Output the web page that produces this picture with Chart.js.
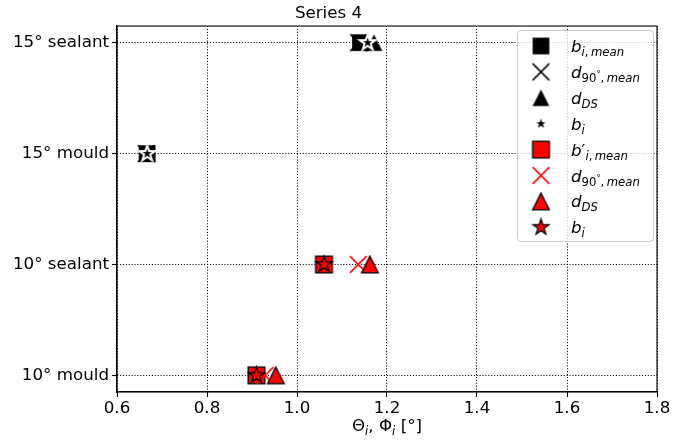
<!DOCTYPE html>
<html>
<head>
<meta charset="utf-8">
<script src="https://cdn.jsdelivr.net/npm/chart.js@4/dist/chart.umd.min.js"></script>
<style>
  body { margin: 0; background: #fff; }
  #wrap { width: 673px; height: 440px; }
</style>
</head>
<body>
<div id="wrap"><canvas id="chart" width="673" height="440"></canvas></div>
<script>
// categories on the y axis (bottom to top) and x ticks
const yLabels = ["10° mould", "10° sealant", "15° mould", "15° sealant"];
const xTicks = [0.6, 0.8, 1.0, 1.2, 1.4, 1.6, 1.8];

// black series sits on the 15° rows
const blackRows = [3, 2];
const blackSquare = [1.141, 0.667];
const blackCross = [1.137, 0.665];
const blackTriangle = [1.171, 0.668];
const blackStar = [1.157, 0.667];

// red series sits on the 10° rows
const redRows = [1, 0];
const redSquare = [1.060, 0.910];
const redCross = [1.136, 0.929];
const redTriangle = [1.162, 0.953];
const redStar = [1.060, 0.910];

const FONT = "'DejaVu Sans', sans-serif";
const FS = 16.7;

// draw matplotlib-like marker into a small canvas, used as pointStyle
function makeMarker(kind, ms, fill, edge, lw) {
    const pad = Math.ceil(lw) + 2;
    const n = Math.ceil(ms) + 2 * pad;
    const c = document.createElement("canvas");
    c.width = n; c.height = n;
    const g = c.getContext("2d");
    g.translate(n / 2, n / 2);
    const h = ms / 2;
    g.beginPath();
    if (kind === "square") {
        g.rect(-h, -h, ms, ms);
    } else if (kind === "triangle") {
        g.moveTo(0, -h); g.lineTo(-h, h); g.lineTo(h, h); g.closePath();
    } else if (kind === "star") {
        for (let k = 0; k < 10; k++) {
            const r = k % 2 ? h * 0.381966 : h;
            const a = -Math.PI / 2 + k * Math.PI / 5;
            if (k === 0) g.moveTo(r * Math.cos(a), r * Math.sin(a));
            else g.lineTo(r * Math.cos(a), r * Math.sin(a));
        }
        g.closePath();
    } else if (kind === "cross") {
        g.moveTo(-h, -h); g.lineTo(h, h);
        g.moveTo(-h, h); g.lineTo(h, -h);
    }
    if (kind === "cross") {
        g.strokeStyle = fill; g.lineWidth = lw; g.stroke();
    } else {
        g.fillStyle = fill; g.fill();
        if (lw > 0) { g.strokeStyle = edge; g.lineWidth = lw; g.lineJoin = "miter"; g.stroke(); }
    }
    return c;
}

const MS = 16.7;
const markers = [
    makeMarker("square", MS, "#000", "#000", 0),
    makeMarker("cross", MS, "#000", "#000", 1.5),
    makeMarker("triangle", MS, "#000", "#000", 0),
    makeMarker("star", MS, "#000", "#fff", 2),
    makeMarker("square", MS, "#ff0000", "#000", 1.3),
    makeMarker("cross", MS, "#ff0000", "#ff0000", 1.5),
    makeMarker("triangle", MS, "#ff0000", "#000", 1.3),
    makeMarker("star", MS, "#ff0000", "#000", 1.3)
];

const seriesX = [blackSquare, blackCross, blackTriangle, blackStar, redSquare, redCross, redTriangle, redStar];
const seriesRows = [blackRows, blackRows, blackRows, blackRows, redRows, redRows, redRows, redRows];

// legend labels as math pieces: [text, italic, level] level 0 main, 1 sub, 2 sup in sub
const I = true, R = false;
const legendLabels = [
    [["b", I, 0], ["i", I, 1], [",\u2009", R, 1], ["mean", I, 1]],
    [["d", I, 0], ["90", R, 1], ["°", R, 2], [",\u2009", R, 1], ["mean", I, 1]],
    [["d", I, 0], ["DS", I, 1]],
    [["b", I, 0], ["i", I, 1]],
    [["b", I, 0], ["′", R, 0], ["i", I, 1], [",\u2009", R, 1], ["mean", I, 1]],
    [["d", I, 0], ["90", R, 1], ["°", R, 2], [",\u2009", R, 1], ["mean", I, 1]],
    [["d", I, 0], ["DS", I, 1]],
    [["b", I, 0], ["i", I, 1]]
];
const xTitle = [["Θ", R, 0], ["i", I, 1], [", ", R, 0], ["Φ", R, 0], ["i", I, 1], [" [°]", R, 0]];

function pieceFont(p) {
    const size = p[2] === 0 ? FS : (p[2] === 1 ? FS * 0.7 : FS * 0.5);
    return (p[1] ? "oblique " : "") + size.toFixed(1) + "px " + FONT;
}
function pieceDy(p) {
    return p[2] === 0 ? 0 : (p[2] === 1 ? 4 : -1);
}
function mathWidth(ctx, parts) {
    let w = 0;
    parts.forEach(p => { ctx.font = pieceFont(p); w += ctx.measureText(p[0]).width; });
    return w;
}
function drawMath(ctx, x, baseline, parts) {
    ctx.textBaseline = "alphabetic";
    ctx.textAlign = "left";
    ctx.fillStyle = "#000";
    parts.forEach(p => {
        ctx.font = pieceFont(p);
        ctx.fillText(p[0], x, baseline + pieceDy(p));
        x += ctx.measureText(p[0]).width;
    });
}

const extras = {
    id: "extras",
    afterDatasetsDraw(chart) {
        const ctx = chart.ctx;
        const a = chart.chartArea;
        ctx.save();
        // frame (all four spines)
        ctx.strokeStyle = "#000";
        ctx.lineWidth = 1.1;
        ctx.strokeRect(a.left, a.top, a.right - a.left, a.bottom - a.top);

        // x axis title
        const w = mathWidth(ctx, xTitle);
        drawMath(ctx, (a.left + a.right) / 2 - w / 2, 431, xTitle);

        // legend
        const lx = 517.5, ly = 30.5, lw = 136, lh = 211, r = 4;
        ctx.beginPath();
        ctx.moveTo(lx + r, ly);
        ctx.arcTo(lx + lw, ly, lx + lw, ly + lh, r);
        ctx.arcTo(lx + lw, ly + lh, lx, ly + lh, r);
        ctx.arcTo(lx, ly + lh, lx, ly, r);
        ctx.arcTo(lx, ly, lx + lw, ly, r);
        ctx.closePath();
        ctx.fillStyle = "rgba(255,255,255,0.8)";
        ctx.fill();
        ctx.strokeStyle = "#cccccc";
        ctx.lineWidth = 1;
        ctx.stroke();
        legendLabels.forEach((parts, i) => {
            const cy = 46 + i * 25.9;
            const m = markers[i];
            ctx.drawImage(m, 541 - m.width / 2, cy - m.height / 2);
            drawMath(ctx, 571, cy + 6, parts);
        });
        ctx.restore();
    }
};

const datasets = seriesX.map((xs, i) => ({
    data: xs.map((x, j) => ({ x: x, y: seriesRows[i][j] })),
    pointStyle: markers[i],
    pointRadius: 9,
    showLine: false,
    order: seriesX.length - i  // first series drawn first, like matplotlib
}));

new Chart(document.getElementById("chart"), {
    type: "scatter",
    data: { datasets: datasets },
    options: {
        responsive: false,
        animation: false,
        devicePixelRatio: 1,
        layout: { padding: { left: 0, right: 16, top: 0, bottom: 0 } },
        plugins: {
            legend: { display: false },
            tooltip: { enabled: false },
            title: {
                display: true,
                text: "Series 4",
                color: "#000",
                font: { family: FONT, size: FS, weight: "normal", lineHeight: 1.2 },
                padding: { top: 4, bottom: 2 }
            }
        },
        scales: {
            x: {
                type: "linear",
                min: 0.6,
                max: 1.8,
                afterBuildTicks: s => { s.ticks = xTicks.map(v => ({ value: v })); },
                afterFit: s => { s.height = 48; },
                ticks: {
                    autoSkip: false,
                    maxRotation: 0,
                    padding: 2,
                    color: "#000",
                    font: { family: FONT, size: FS },
                    callback: v => Number(v).toFixed(1)
                },
                grid: { color: "#000", lineWidth: 1, tickLength: 5, tickColor: "#000", tickWidth: 1.1 },
                border: { display: true, color: "#000", width: 1.1, dash: [1.1, 1.8] }
            },
            y: {
                type: "linear",
                min: -0.15,
                max: 3.15,
                afterBuildTicks: s => { s.ticks = yLabels.map((t, i) => ({ value: i })); },
                afterFit: s => { s.width = 117; },
                ticks: {
                    autoSkip: false,
                    padding: 3,
                    color: "#000",
                    font: { family: FONT, size: FS },
                    callback: v => yLabels[v]
                },
                grid: { color: "#000", lineWidth: 1, tickLength: 5, tickColor: "#000", tickWidth: 1.1 },
                border: { display: true, color: "#000", width: 1.1, dash: [1.1, 1.8] }
            }
        }
    },
    plugins: [extras]
});
</script>
</body>
</html>
